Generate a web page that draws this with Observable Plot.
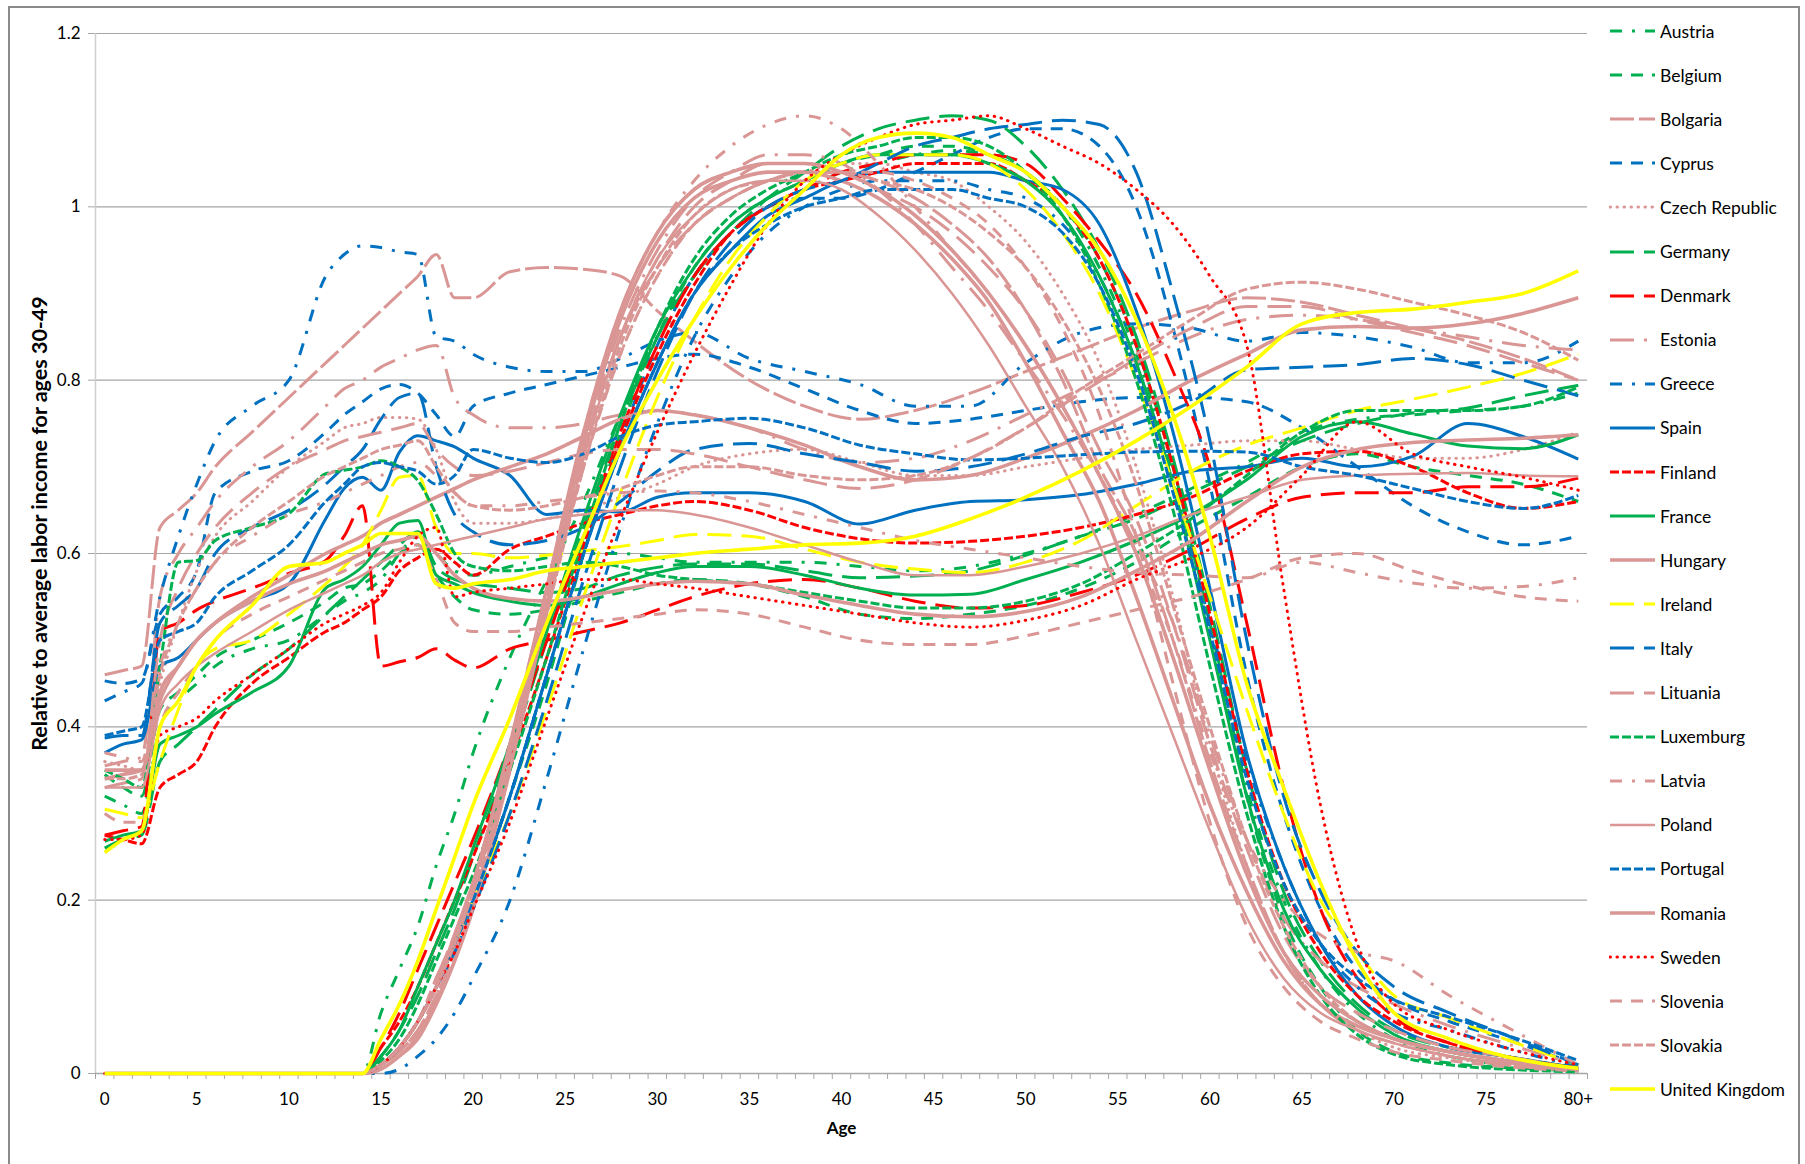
<!DOCTYPE html>
<html>
<head>
<meta charset="utf-8">
<script src="https://cdn.jsdelivr.net/npm/d3@7"></script>
<script src="https://cdn.jsdelivr.net/npm/@observablehq/plot@0.6"></script>
<style>
  body { margin: 0; background: #fff; font-family: Lato, "Liberation Sans", sans-serif; }
  #frame { position: absolute; left: 8px; top: 6px; width: 1792px; height: 1190px; border: 2px solid #8a8a8a; box-sizing: border-box; }
  #chart { position: absolute; left: 0; top: 0; }
  #legend { position: absolute; left: 1609px; top: 0; }
  .item { position: absolute; left: 0; height: 22px; display: flex; align-items: center; white-space: nowrap; font-size: 17.5px; color: #000; }
  .item svg { margin-right: 4px; }
</style>
</head>
<body>
<div id="frame"></div>
<div id="chart"></div>
<div id="legend"></div>
<script>
// Age grids for the two profiles of each country
const laborAges = [0,14,15,16,17,18,19,20,22,24,26,28,30,32,34,36,38,40,42,44,46,48,50,52,54,56,58,60,62,64,66,68,70,73,76,80];
const consAges  = [0,1,2,3,4,5,6,8,10,12,13,14,15,16,17,18,19,20,22,24,26,28,30,32,35,38,41,44,47,50,53,56,59,62,65,68,71,74,77,80];

const countries = ["Austria","Belgium","Bolgaria","Cyprus","Czech Republic","Germany","Denmark","Estonia","Greece","Spain",
  "Finland","France","Hungary","Ireland","Italy","Lituania","Luxemburg","Latvia","Poland","Portugal","Romania","Sweden",
  "Slovenia","Slovakia","United Kingdom"];

// Labor income by age, relative to the 30-49 average
const austriaLabor   = [0,0,0.07,0.12,0.17, 0.24,0.3,0.37,0.48,0.57, 0.66,0.76,0.85,0.92,0.97, 1.0,1.02,1.04,1.05,1.06, 1.065,1.06,1.04,1.0,0.93, 0.83,0.69,0.52,0.33,0.2, 0.12,0.07,0.04,0.02,0.01, 0.004];
const belgiumLabor   = [0,0,0.01,0.03,0.06, 0.1,0.15,0.2,0.32,0.45, 0.6,0.74,0.85,0.93,0.98, 1.01,1.03,1.05,1.06,1.07, 1.07,1.06,1.04,1.0,0.94, 0.84,0.7,0.52,0.32,0.18, 0.1,0.05,0.025,0.012,0.007, 0.003];
const bolgariaLabor  = [0,0,0.01,0.025,0.05, 0.09,0.14,0.2,0.36,0.54, 0.72,0.85,0.93,0.98,1.01, 1.03,1.04,1.04,1.03,1.01, 0.98,0.94,0.88,0.8,0.7, 0.62,0.5,0.36,0.24,0.14, 0.08,0.05,0.035,0.02,0.01, 0.003];
const cyprusLabor    = [0,0,0.01,0.03,0.06, 0.1,0.15,0.2,0.32,0.46, 0.6,0.73,0.84,0.92,0.97, 1.0,1.01,1.01,1.02,1.04, 1.06,1.08,1.09,1.09,1.07, 1.0,0.86,0.68,0.46,0.3, 0.19,0.12,0.085,0.06,0.04, 0.01];
const czechLabor     = [0,0,0.01,0.03,0.06, 0.1,0.15,0.21,0.36,0.53, 0.7,0.83,0.92,0.98,1.01, 1.03,1.04,1.05,1.05,1.04, 1.03,1.0,0.96,0.9,0.82, 0.7,0.55,0.38,0.24,0.14, 0.08,0.05,0.03,0.018,0.01, 0.003];
const germanyLabor   = [0,0,0.02,0.05,0.09, 0.14,0.19,0.25,0.37,0.5, 0.63,0.75,0.85,0.92,0.97, 1.01,1.04,1.07,1.09,1.1, 1.105,1.1,1.07,1.02,0.95, 0.85,0.71,0.54,0.35,0.21, 0.13,0.08,0.05,0.03,0.02, 0.006];
const denmarkLabor   = [0,0,0.03,0.07,0.12, 0.17,0.22,0.27,0.38,0.5, 0.62,0.74,0.84,0.92,0.97, 1.0,1.02,1.04,1.05,1.06, 1.06,1.06,1.05,1.01,0.96, 0.9,0.81,0.7,0.52,0.33, 0.19,0.11,0.065,0.035,0.02, 0.006];
const estoniaLabor   = [0,0,0.01,0.03,0.06, 0.11,0.16,0.22,0.38,0.56, 0.73,0.86,0.95,1.01,1.04, 1.06,1.06,1.05,1.02,0.98, 0.93,0.88,0.82,0.76,0.69, 0.61,0.52,0.39,0.27,0.18, 0.13,0.1,0.08,0.055,0.035, 0.01];
const greeceLabor    = [0,0,0,0.005,0.02, 0.04,0.07,0.11,0.2,0.34, 0.49,0.63,0.75,0.85,0.92, 0.97,1.0,1.02,1.03,1.03, 1.03,1.02,1.01,0.98,0.92, 0.82,0.68,0.52,0.36,0.24, 0.15,0.1,0.07,0.05,0.03, 0.008];
const spainLabor     = [0,0,0.01,0.03,0.06, 0.1,0.15,0.2,0.32,0.46, 0.6,0.72,0.82,0.9,0.95, 0.99,1.01,1.03,1.04,1.04, 1.04,1.04,1.03,1.02,0.98, 0.88,0.74,0.56,0.37,0.24, 0.15,0.09,0.055,0.03,0.02, 0.006];
const finlandLabor   = [0,0,0.03,0.06,0.1, 0.15,0.2,0.25,0.36,0.48, 0.61,0.73,0.83,0.91,0.97, 1.0,1.02,1.03,1.04,1.05, 1.05,1.05,1.03,1.0,0.94, 0.84,0.7,0.53,0.35,0.22, 0.14,0.09,0.06,0.035,0.02, 0.006];
const franceLabor    = [0,0,0.02,0.05,0.1, 0.15,0.2,0.26,0.38,0.51, 0.64,0.76,0.86,0.93,0.98, 1.01,1.03,1.05,1.06,1.06, 1.06,1.05,1.03,0.99,0.92, 0.82,0.68,0.5,0.32,0.19, 0.12,0.075,0.045,0.025,0.015, 0.005];
const hungaryLabor   = [0,0,0.005,0.02,0.04, 0.08,0.13,0.19,0.35,0.54, 0.73,0.87,0.96,1.01,1.03, 1.04,1.04,1.03,1.01,0.98, 0.94,0.89,0.82,0.74,0.66, 0.55,0.43,0.31,0.21,0.13, 0.08,0.055,0.04,0.025,0.015, 0.005];
const irelandLabor   = [0,0,0.01,0.03,0.06, 0.1,0.15,0.2,0.3,0.42, 0.55,0.67,0.78,0.87,0.94, 0.99,1.03,1.05,1.06,1.06, 1.06,1.05,1.02,0.97,0.9, 0.8,0.68,0.55,0.42,0.3, 0.2,0.14,0.09,0.064,0.04, 0.01];
const italyLabor     = [0,0,0.01,0.03,0.06, 0.1,0.14,0.19,0.3,0.43, 0.57,0.7,0.81,0.9,0.96, 1.0,1.02,1.03,1.05,1.07, 1.08,1.09,1.095,1.1,1.095, 1.04,0.9,0.73,0.5,0.32, 0.21,0.14,0.1,0.07,0.045, 0.01];
const lituaniaLabor  = [0,0,0.01,0.03,0.06, 0.1,0.15,0.21,0.37,0.55, 0.72,0.85,0.94,1.0,1.03, 1.05,1.05,1.04,1.02,1.0, 0.97,0.93,0.88,0.81,0.72, 0.64,0.52,0.38,0.26,0.16, 0.1,0.07,0.05,0.03,0.02, 0.005];
const luxemburgLabor = [0,0,0.015,0.04,0.08, 0.13,0.18,0.23,0.35,0.48, 0.62,0.75,0.86,0.94,0.99, 1.02,1.04,1.06,1.07,1.08, 1.08,1.07,1.04,0.99,0.91, 0.8,0.65,0.47,0.3,0.17, 0.09,0.045,0.022,0.01,0.005, 0.002];
const latviaLabor    = [0,0,0.01,0.025,0.05, 0.09,0.14,0.2,0.36,0.55, 0.74,0.88,0.97,1.03,1.07, 1.095,1.105,1.09,1.05,1.0, 0.95,0.9,0.84,0.77,0.69, 0.6,0.5,0.37,0.27,0.2, 0.16,0.14,0.13,0.09,0.055, 0.01];
const polandLabor    = [0,0,0.005,0.02,0.045, 0.085,0.13,0.19,0.35,0.53, 0.71,0.85,0.94,0.99,1.02, 1.03,1.03,1.02,0.99,0.95, 0.9,0.84,0.77,0.7,0.61, 0.5,0.39,0.28,0.18,0.11, 0.07,0.05,0.035,0.02,0.012, 0.004];
const portugalLabor  = [0,0,0.01,0.03,0.06, 0.1,0.15,0.2,0.32,0.46, 0.6,0.72,0.82,0.9,0.95, 0.98,1.0,1.01,1.02,1.02, 1.02,1.01,1.0,0.97,0.91, 0.81,0.67,0.51,0.34,0.22, 0.15,0.11,0.085,0.065,0.045, 0.015];
const romaniaLabor   = [0,0,0.01,0.03,0.06, 0.1,0.16,0.22,0.38,0.56, 0.74,0.88,0.97,1.02,1.04, 1.05,1.05,1.04,1.02,0.99, 0.95,0.9,0.84,0.77,0.69, 0.6,0.48,0.35,0.23,0.14, 0.09,0.06,0.04,0.025,0.015, 0.005];
const swedenLabor    = [0,0,0.01,0.03,0.06, 0.1,0.14,0.19,0.29,0.41, 0.53,0.64,0.74,0.83,0.91, 0.98,1.03,1.06,1.08,1.095, 1.1,1.105,1.09,1.07,1.05, 1.02,0.98,0.92,0.84,0.56, 0.31,0.15,0.08,0.05,0.03, 0.01];
const sloveniaLabor  = [0,0,0.01,0.03,0.06, 0.11,0.16,0.22,0.37,0.54, 0.7,0.83,0.92,0.98,1.01, 1.03,1.04,1.04,1.04,1.03, 1.01,0.98,0.93,0.86,0.76, 0.62,0.45,0.29,0.17,0.1, 0.06,0.04,0.025,0.015,0.008, 0.003];
const slovakiaLabor  = [0,0,0.01,0.03,0.06, 0.1,0.15,0.21,0.36,0.53, 0.7,0.84,0.93,0.99,1.02, 1.03,1.04,1.04,1.03,1.02, 1.0,0.97,0.93,0.87,0.79, 0.68,0.54,0.4,0.27,0.17, 0.1,0.06,0.04,0.025,0.015, 0.005];
const ukLabor        = [0,0,0.04,0.08,0.13, 0.19,0.25,0.31,0.41,0.52, 0.62,0.72,0.8,0.87,0.93, 0.98,1.02,1.06,1.08,1.085, 1.08,1.06,1.04,1.0,0.95, 0.87,0.76,0.62,0.45,0.33, 0.22,0.13,0.07,0.04,0.02, 0.006];

// Consumption by age, relative to the 30-49 labor income average
const austriaCons   = [0.32,0.31,0.30,0.40,0.43, 0.45,0.47,0.49,0.50,0.53, 0.545,0.555,0.57,0.60,0.62, 0.60,0.58,0.575,0.585,0.595, 0.60,0.60,0.595,0.59,0.59, 0.59,0.585,0.58,0.585,0.60, 0.62,0.645,0.675,0.705,0.74, 0.755,0.76,0.765,0.77,0.785];
const belgiumCons   = [0.345,0.33,0.32,0.42,0.44, 0.46,0.48,0.50,0.52,0.545, 0.56,0.565,0.58,0.60,0.61, 0.575,0.55,0.535,0.53,0.535, 0.545,0.555,0.565,0.57,0.565, 0.55,0.53,0.525,0.53,0.54, 0.56,0.59,0.63,0.665,0.70, 0.715,0.70,0.69,0.68,0.66];
const bolgariaCons  = [0.46,0.465,0.47,0.63,0.65, 0.67,0.70,0.74,0.78,0.82, 0.84,0.86,0.88,0.90,0.92, 0.945,0.895,0.895,0.925,0.93, 0.928,0.92,0.88,0.845,0.80, 0.77,0.755,0.765,0.785,0.81, 0.835,0.86,0.88,0.895,0.89, 0.875,0.86,0.845,0.825,0.80];
const cyprusCons    = [0.453,0.45,0.455,0.53,0.55, 0.58,0.67,0.695,0.707,0.74, 0.76,0.775,0.79,0.795,0.785, 0.76,0.735,0.77,0.785,0.795, 0.805,0.815,0.825,0.83,0.815, 0.79,0.765,0.75,0.755,0.765, 0.775,0.78,0.78,0.775,0.745, 0.70,0.655,0.625,0.61,0.62];
const czechCons     = [0.36,0.355,0.35,0.45,0.52, 0.58,0.62,0.66,0.70,0.73, 0.745,0.75,0.757,0.757,0.755, 0.72,0.66,0.635,0.635,0.64, 0.65,0.665,0.68,0.70,0.715, 0.72,0.705,0.69,0.69,0.70, 0.71,0.72,0.725,0.73,0.73, 0.72,0.71,0.71,0.72,0.74];
const germanyCons   = [0.26,0.27,0.275,0.36,0.38, 0.40,0.42,0.46,0.49,0.53, 0.55,0.57,0.59,0.61,0.625, 0.585,0.57,0.565,0.56,0.555, 0.56,0.575,0.584,0.588,0.588, 0.58,0.572,0.574,0.58,0.598, 0.62,0.64,0.67,0.70,0.73, 0.75,0.762,0.768,0.782,0.794];
const denmarkCons   = [0.275,0.28,0.285,0.51,0.52, 0.535,0.545,0.56,0.577,0.592, 0.62,0.655,0.47,0.475,0.48, 0.49,0.477,0.468,0.49,0.50, 0.51,0.52,0.535,0.55,0.565, 0.57,0.56,0.545,0.537,0.54, 0.555,0.575,0.605,0.64,0.665, 0.67,0.67,0.677,0.677,0.687];
const estoniaCons   = [0.355,0.36,0.365,0.55,0.60, 0.63,0.66,0.70,0.73,0.77, 0.79,0.80,0.815,0.825,0.835, 0.84,0.78,0.76,0.745,0.745, 0.75,0.76,0.765,0.76,0.745, 0.72,0.705,0.71,0.73,0.76, 0.79,0.82,0.85,0.87,0.875, 0.87,0.86,0.85,0.84,0.835];
const greeceCons    = [0.43,0.44,0.45,0.55,0.62, 0.68,0.73,0.77,0.80,0.92, 0.945,0.955,0.953,0.948,0.945, 0.85,0.845,0.83,0.815,0.81, 0.81,0.825,0.845,0.855,0.825, 0.81,0.795,0.77,0.77,0.82, 0.855,0.865,0.86,0.845,0.855, 0.85,0.838,0.82,0.82,0.845];
const spainCons     = [0.37,0.38,0.385,0.47,0.48, 0.50,0.52,0.545,0.565,0.64, 0.675,0.688,0.673,0.717,0.736, 0.73,0.723,0.71,0.69,0.645, 0.65,0.648,0.665,0.67,0.67, 0.66,0.634,0.65,0.66,0.662, 0.668,0.68,0.695,0.70,0.71, 0.70,0.712,0.75,0.735,0.709];
const finlandCons   = [0.275,0.27,0.265,0.33,0.345, 0.36,0.40,0.45,0.48,0.51, 0.52,0.535,0.55,0.58,0.595, 0.605,0.59,0.575,0.605,0.62, 0.635,0.645,0.655,0.66,0.65, 0.63,0.617,0.612,0.614,0.62, 0.63,0.645,0.665,0.695,0.715, 0.718,0.70,0.67,0.652,0.66];
const franceCons    = [0.268,0.275,0.28,0.38,0.39, 0.40,0.415,0.44,0.47,0.56, 0.57,0.585,0.61,0.635,0.638, 0.575,0.565,0.555,0.545,0.54, 0.55,0.565,0.578,0.585,0.585, 0.575,0.56,0.552,0.553,0.57, 0.59,0.615,0.645,0.685,0.735, 0.752,0.738,0.724,0.721,0.737];
const hungaryCons   = [0.34,0.345,0.35,0.43,0.47, 0.50,0.52,0.55,0.575,0.60, 0.61,0.62,0.635,0.645,0.655, 0.665,0.675,0.685,0.70,0.715, 0.735,0.755,0.765,0.76,0.745, 0.725,0.70,0.685,0.69,0.71, 0.735,0.765,0.80,0.83,0.858, 0.862,0.86,0.865,0.877,0.895];
const irelandCons   = [0.305,0.30,0.295,0.36,0.42, 0.47,0.49,0.50,0.53,0.565, 0.585,0.61,0.65,0.688,0.69, 0.63,0.60,0.60,0.595,0.598, 0.603,0.608,0.615,0.622,0.62, 0.605,0.59,0.582,0.578,0.59, 0.615,0.655,0.695,0.725,0.745, 0.765,0.778,0.792,0.808,0.83];
const italyCons     = [0.387,0.39,0.39,0.52,0.54, 0.56,0.60,0.63,0.65,0.68, 0.70,0.72,0.755,0.78,0.785, 0.70,0.645,0.625,0.61,0.615, 0.63,0.66,0.695,0.72,0.727, 0.715,0.705,0.695,0.70,0.715, 0.735,0.75,0.775,0.812,0.815, 0.818,0.825,0.818,0.80,0.782];
const lituaniaCons  = [0.33,0.335,0.34,0.50,0.56, 0.60,0.63,0.67,0.70,0.72, 0.73,0.735,0.74,0.745,0.75, 0.72,0.70,0.69,0.695,0.705, 0.715,0.72,0.72,0.715,0.70, 0.685,0.675,0.685,0.71,0.745, 0.785,0.825,0.86,0.885,0.885, 0.87,0.855,0.84,0.82,0.80];
const luxemburgCons = [0.35,0.34,0.33,0.47,0.59, 0.592,0.615,0.63,0.646,0.692, 0.696,0.70,0.707,0.70,0.684, 0.645,0.60,0.585,0.58,0.585, 0.59,0.585,0.575,0.57,0.565, 0.555,0.545,0.537,0.537,0.545, 0.565,0.60,0.64,0.69,0.74, 0.765,0.765,0.765,0.77,0.792];
const latviaCons    = [0.37,0.365,0.36,0.47,0.52, 0.56,0.59,0.62,0.645,0.66, 0.67,0.68,0.69,0.70,0.705, 0.69,0.67,0.655,0.655,0.66, 0.665,0.67,0.672,0.67,0.66, 0.645,0.63,0.615,0.605,0.595, 0.585,0.578,0.575,0.572,0.59, 0.578,0.566,0.56,0.562,0.572];
const polandCons    = [0.33,0.33,0.33,0.42,0.45, 0.47,0.485,0.51,0.535,0.555, 0.565,0.575,0.59,0.60,0.605, 0.61,0.615,0.62,0.63,0.64, 0.645,0.65,0.65,0.645,0.63, 0.61,0.59,0.575,0.575,0.585, 0.60,0.62,0.645,0.665,0.685, 0.69,0.692,0.693,0.69,0.689];
const portugalCons  = [0.39,0.395,0.40,0.50,0.51, 0.52,0.55,0.58,0.61,0.66, 0.68,0.70,0.705,0.70,0.695, 0.68,0.69,0.72,0.71,0.705, 0.715,0.735,0.748,0.752,0.756, 0.745,0.725,0.715,0.708,0.71, 0.714,0.717,0.718,0.717,0.70, 0.69,0.675,0.66,0.652,0.667];
const romaniaCons   = [0.35,0.35,0.35,0.44,0.47, 0.50,0.52,0.545,0.565,0.58, 0.59,0.60,0.61,0.615,0.62, 0.60,0.575,0.56,0.548,0.545, 0.55,0.558,0.565,0.568,0.565, 0.552,0.54,0.53,0.527,0.533, 0.55,0.58,0.615,0.66,0.70, 0.72,0.728,0.731,0.733,0.737];
const swedenCons    = [0.27,0.27,0.275,0.39,0.40, 0.41,0.43,0.46,0.49,0.52, 0.53,0.54,0.555,0.59,0.62, 0.63,0.55,0.555,0.56,0.565, 0.57,0.57,0.565,0.56,0.55, 0.54,0.53,0.52,0.515,0.523, 0.54,0.57,0.595,0.63,0.69, 0.752,0.715,0.70,0.688,0.673];
const sloveniaCons  = [0.30,0.29,0.29,0.40,0.44, 0.47,0.50,0.53,0.55,0.57, 0.58,0.59,0.60,0.605,0.61, 0.57,0.52,0.51,0.51,0.515, 0.52,0.525,0.53,0.535,0.53, 0.515,0.50,0.495,0.495,0.505, 0.52,0.535,0.55,0.57,0.595, 0.60,0.58,0.563,0.55,0.545];
const slovakiaCons  = [0.34,0.34,0.345,0.46,0.52, 0.56,0.59,0.63,0.66,0.69, 0.70,0.71,0.72,0.725,0.73, 0.70,0.67,0.655,0.65,0.655, 0.665,0.675,0.69,0.70,0.70, 0.69,0.685,0.69,0.71,0.745, 0.79,0.83,0.87,0.905,0.913, 0.905,0.89,0.875,0.855,0.823];
const ukCons        = [0.255,0.27,0.28,0.40,0.43, 0.47,0.50,0.54,0.585,0.59, 0.60,0.61,0.623,0.623,0.623, 0.565,0.56,0.565,0.57,0.58, 0.585,0.59,0.595,0.60,0.605, 0.61,0.612,0.62,0.64,0.665, 0.695,0.73,0.77,0.815,0.865, 0.878,0.882,0.89,0.90,0.926];

const laborSeries = [austriaLabor, belgiumLabor, bolgariaLabor, cyprusLabor, czechLabor, germanyLabor, denmarkLabor,
  estoniaLabor, greeceLabor, spainLabor, finlandLabor, franceLabor, hungaryLabor, irelandLabor, italyLabor, lituaniaLabor,
  luxemburgLabor, latviaLabor, polandLabor, portugalLabor, romaniaLabor, swedenLabor, sloveniaLabor, slovakiaLabor, ukLabor];
const consSeries = [austriaCons, belgiumCons, bolgariaCons, cyprusCons, czechCons, germanyCons, denmarkCons,
  estoniaCons, greeceCons, spainCons, finlandCons, franceCons, hungaryCons, irelandCons, italyCons, lituaniaCons,
  luxemburgCons, latviaCons, polandCons, portugalCons, romaniaCons, swedenCons, sloveniaCons, slovakiaCons, ukCons];

const yTicks = [0, 0.2, 0.4, 0.6, 0.8, 1.0, 1.2];
const xLabelTicks = [0,5,10,15,20,25,30,35,40,45,50,55,60,65,70,75,80];
const xTitle = "Age";
const yTitle = "Relative to average labor income for ages 30-49";

// Line styles, one per country in legend order
const GREEN = "#00b050", PINK = "#d99694", BLUE = "#0070c0", RED = "#ff0000", YELLOW = "#ffff00";
const SOLID = null, DASH = "12,9", LGDASH = "24,10", LONG = "24,5", SYSDASH = "9,3", DOT = "0.5,6.5",
      DASHDOT = "12,10,3,10", LGDASHDOT = "24,10,3,10";
const colors = [GREEN, GREEN, PINK, BLUE, PINK, GREEN, RED, PINK, BLUE, BLUE, RED, GREEN, PINK, YELLOW, BLUE, PINK,
  GREEN, PINK, PINK, BLUE, PINK, RED, PINK, PINK, YELLOW];
const dashes = [DASHDOT, DASH, LONG, DASH, DOT, LGDASH, LGDASH, LGDASHDOT, DASHDOT, SOLID, SYSDASH, SOLID, SOLID, LGDASH,
  LGDASH, LGDASH, SYSDASH, DASHDOT, SOLID, SYSDASH, SOLID, DOT, DASH, SYSDASH, SOLID];
const widths = [3, 3, 3, 3, 3, 3, 3, 3, 3, 3, 3, 3, 3.6, 3, 3, 3, 3, 3, 2.5, 3, 3.6, 3, 3, 3, 3.6];

// Long-format rows: one row per country, profile and age
const rows = countries.flatMap((name, i) => [
  ...laborAges.map((age, j) => ({name, profile: "labor", age, value: laborSeries[i][j]})),
  ...consAges.map((age, j) => ({name, profile: "consumption", age, value: consSeries[i][j]}))
]);

const boundaries = d3.range(-0.5, 81, 1);

const lineMarks = countries.map((name, i) => Plot.line(rows.filter(d => d.name === name), {
  x: "age", y: "value", z: "profile",
  stroke: colors[i], strokeWidth: widths[i],
  strokeDasharray: dashes[i] ?? undefined,
  strokeLinecap: dashes[i] === DOT ? "round" : "butt",
  strokeLinejoin: "round",
  curve: "monotone-x"
}));

const chart = Plot.plot({
  width: 1600,
  height: 1164,
  marginLeft: 95,
  marginRight: 13,
  marginTop: 33,
  marginBottom: 91,
  style: {fontFamily: "Lato, 'Liberation Sans', sans-serif", fontSize: "17px", color: "#000", background: "transparent", overflow: "visible"},
  x: {domain: [-0.5, 80.5]},
  y: {domain: [0, 1.2]},
  marks: [
    Plot.ruleY(yTicks.filter(d => d > 0), {stroke: "#a6a6a6", strokeWidth: 1.2}),
    Plot.ruleX([-0.5], {stroke: "#cfcfcf", strokeWidth: 1.5}),
    Plot.ruleY([0], {stroke: "#a6a6a6", strokeWidth: 1.5}),
    Plot.axisY({ticks: yTicks, tickSize: 7, tickPadding: 8, stroke: "#a6a6a6", label: null,
      tickFormat: d => String(+d.toFixed(1))}),
    Plot.axisX({ticks: boundaries, tickSize: 6, stroke: "#a6a6a6", label: null, tickFormat: () => ""}),
    Plot.axisX({ticks: xLabelTicks, tickSize: 0, tickPadding: 19, label: null,
      tickFormat: d => d === 80 ? "80+" : String(d)}),
    ...lineMarks,
    Plot.text([xTitle], {text: d => d, frameAnchor: "bottom", dy: 60, fontWeight: "bold", fontSize: 17}),
    Plot.text([yTitle], {text: d => d, frameAnchor: "left", textAnchor: "middle", dx: -55, dy: -30, rotate: -90,
      fontWeight: "bold", fontSize: 21.5})
  ]
});
document.getElementById("chart").append(chart);

// Legend: a short line sample and the country name
const legend = document.getElementById("legend");
countries.forEach((name, i) => {
  const item = document.createElement("div");
  item.className = "item";
  item.style.top = (31 + 44.1 * i - 11) + "px";
  const dash = dashes[i] ? `stroke-dasharray="${dashes[i]}"` : "";
  const cap = dashes[i] === DOT ? "round" : "butt";
  item.innerHTML = `<svg width="47" height="8"><line x1="1" x2="46" y1="4" y2="4" stroke="${colors[i]}" stroke-width="${widths[i]}" ${dash} stroke-linecap="${cap}"/></svg><span>${name}</span>`;
  legend.append(item);
});
</script>
</body>
</html>
